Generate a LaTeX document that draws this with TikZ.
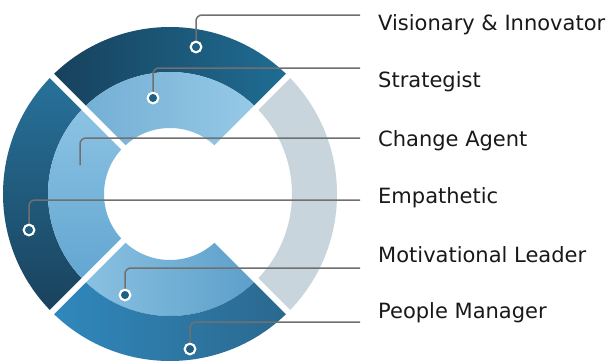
\documentclass[tikz,border=0pt]{standalone}
\usepackage{fontspec}
\setmainfont{DejaVu Sans}
\definecolor{visL}{HTML}{17415C}
\definecolor{visR}{HTML}{1F6D93}
\definecolor{strL}{HTML}{74AFD5}
\definecolor{strR}{HTML}{96C9E6}
\definecolor{chT}{HTML}{8CC3E4}
\definecolor{chB}{HTML}{62A6D0}
\definecolor{emT}{HTML}{28729B}
\definecolor{emB}{HTML}{19425C}
\definecolor{moL}{HTML}{8AC1E2}
\definecolor{moR}{HTML}{5C9FC9}
\definecolor{pmL}{HTML}{3088BD}
\definecolor{pmR}{HTML}{2B688E}
\definecolor{grayring}{HTML}{C9D5DD}
\definecolor{linegray}{HTML}{707070}
\definecolor{dotfill}{HTML}{1F5F82}
\begin{document}
\begin{tikzpicture}[x=1pt,y=1pt,
  conn/.style={draw=linegray, line width=1.5pt, rounded corners=6pt},
  dot/.style={circle, draw=white, line width=2pt, fill=dotfill, minimum size=10.5pt, inner sep=0pt},
  lbl/.style={anchor=base west, font=\fontsize{21}{25}\selectfont, text=black!90, inner sep=0pt},
  gap/.style={draw=white, line width=6pt}]
\useasboundingbox[fill=white] (0,0) rectangle (610,360);
\coordinate (O) at (170,166);
% gray right ring
\fill[grayring] ([shift={(O)}]-45:122) arc[start angle=-45,end angle=45,radius=122] -- ([shift={(O)}]45:167) arc[start angle=45,end angle=-45,radius=167] -- cycle;
% top outer (Visionary)
\shade[left color=visL, right color=visR] ([shift={(O)}]45:122) arc[start angle=45,end angle=135,radius=122] -- ([shift={(O)}]135:167) arc[start angle=135,end angle=45,radius=167] -- cycle;
% top inner (Strategist)
\shade[left color=strL, right color=strR] ([shift={(O)}]45:66) arc[start angle=45,end angle=135,radius=66] -- ([shift={(O)}]135:122) arc[start angle=135,end angle=45,radius=122] -- cycle;
% left outer (Empathetic)
\shade[top color=emT, bottom color=emB] ([shift={(O)}]135:122) arc[start angle=135,end angle=225,radius=122] -- ([shift={(O)}]225:167) arc[start angle=225,end angle=135,radius=167] -- cycle;
% left inner (Change Agent)
\shade[top color=chT, bottom color=chB] ([shift={(O)}]135:66) arc[start angle=135,end angle=225,radius=66] -- ([shift={(O)}]225:122) arc[start angle=225,end angle=135,radius=122] -- cycle;
% bottom inner (Motivational)
\shade[left color=moL, right color=moR] ([shift={(O)}]225:66) arc[start angle=225,end angle=315,radius=66] -- ([shift={(O)}]315:122) arc[start angle=315,end angle=225,radius=122] -- cycle;
% bottom outer (People Manager)
\shade[left color=pmL, right color=pmR] ([shift={(O)}]225:122) arc[start angle=225,end angle=315,radius=122] -- ([shift={(O)}]315:167) arc[start angle=315,end angle=225,radius=167] -- cycle;
% white gaps
\foreach \a in {45,135,225,315} \draw[gap] ([shift={(O)}]\a:60) -- ([shift={(O)}]\a:175);
% dots and connector ends
\node[dot] (c1) at (196,313) {};
\node[dot] (c2) at (153,262) {};
\coordinate (c3) at (80,195);
\node[dot] (c4) at (29,130) {};
\node[dot] (c5) at (125,65) {};
\node[dot] (c6) at (190,11) {};
\coordinate (e1) at (360,345);
\coordinate (e2) at (360,292);
\coordinate (e3) at (360,222);
\coordinate (e4) at (360,160);
\coordinate (e5) at (360,92);
\coordinate (e6) at (360,38);
\foreach \i in {1,...,6} \draw[conn] (c\i) |- (e\i);
\foreach \i in {1,2,4,5,6} \node[dot] at (c\i) {};
% labels
\node[lbl] (t1) at (378,330) {Visionary \& Innovator};
\node[lbl] (t2) at (378,273) {Strategist};
\node[lbl] (t3) at (378,214) {Change Agent};
\node[lbl] (t4) at (378,157) {Empathetic};
\node[lbl] (t5) at (378,98) {Motivational Leader};
\node[lbl] (t6) at (378,42) {People Manager};
\end{tikzpicture}
\end{document}
